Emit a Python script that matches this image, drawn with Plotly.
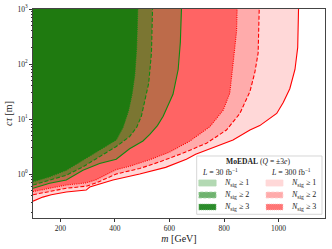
import plotly.graph_objects as go

# ---- data (mass in GeV, c*tau in m) ----
m_l300_n1 = [100, 136, 167, 222, 295, 308, 393, 491, 586, 662, 696, 772, 833, 895, 931, 993, 1017, 1041, 1060, 1070, 1073]
ct_l300_n1 = [0.32, 0.38, 0.42, 0.47, 0.51, 0.58, 0.78, 1.0, 1.32, 1.86, 2.29, 3.16, 4.17, 6.31, 7.59, 12.6, 20, 35.5, 79.4, 200, 1000]

m_l300_n2 = [100, 161, 222, 295, 332, 405, 491, 564, 650, 736, 809, 858, 895, 913, 925, 929]
ct_l300_n2 = [0.42, 0.48, 0.55, 0.60, 0.69, 1.0, 1.26, 1.66, 2.40, 3.63, 6.31, 12.6, 31.6, 70.8, 158, 1000]

m_l300_n3 = [100, 161, 222, 295, 332, 405, 454, 528, 601, 675, 748, 797, 821, 833, 846, 848]
ct_l300_n3 = [0.48, 0.55, 0.63, 0.69, 0.79, 1.20, 1.38, 1.82, 2.51, 3.98, 7.24, 14.5, 29.5, 100, 398, 1000]

m_l30_n1 = [100, 161, 222, 283, 344, 405, 454, 503, 528, 556, 577, 601, 613, 632, 640, 644]
ct_l30_n1 = [0.55, 0.68, 0.78, 1.17, 1.55, 1.86, 2.88, 3.98, 5.25, 7.59, 11.2, 20, 28.2, 79.4, 251, 1000]

m_l30_n2 = [100, 161, 222, 283, 344, 405, 454, 480, 497, 510, 524, 534, 538]
ct_l30_n2 = [0.63, 0.78, 0.95, 1.35, 2.04, 3.16, 4.79, 7.08, 11.2, 22.4, 44.7, 158, 1000]

m_l30_n3 = [100, 161, 222, 283, 344, 405, 430, 450, 463, 473, 480, 484]
ct_l30_n3 = [0.72, 0.89, 1.17, 1.78, 2.75, 4.17, 7.08, 14.1, 28.2, 63.1, 200, 1000]

x_ticks = [200, 400, 600, 800, 1000]
y_ticks = [1, 10, 100, 1000]
y_ticktext = ["10<sup>0</sup>", "10<sup>1</sup>", "10<sup>2</sup>", "10<sup>3</sup>"]

curves = [
    # (masses, ctau, fill colour, line colour, dash)
    (m_l300_n1, ct_l300_n1, "#ffd8d8", "#ff0000", "solid"),
    (m_l300_n2, ct_l300_n2, "#ffabab", "#ff0000", "4px,2px"),
    (m_l300_n3, ct_l300_n3, "#ff6464", "#ff0000", "1px,1.2px"),
    (m_l30_n1, ct_l30_n1, "#bd6b4a", "#118811", "solid"),
    (m_l30_n2, ct_l30_n2, "#7b7632", "#118811", "4px,2px"),
    (m_l30_n3, ct_l30_n3, "#1f7a10", "#118811", "1px,1.2px"),
]

fig = go.Figure()

# filled regions (to the upper-left of each curve)
for ms, cts, fc, lc, dash in curves:
    xs = list(ms) + [ms[0]]
    ys = list(cts) + [cts[-1]]
    fig.add_trace(go.Scatter(x=xs, y=ys, mode="lines", fill="toself",
                             fillcolor=fc, line=dict(width=0), hoverinfo="skip"))

# boundary lines
for ms, cts, fc, lc, dash in curves:
    fig.add_trace(go.Scatter(x=ms, y=cts, mode="lines",
                             line=dict(color=lc, width=1.1, dash=dash), hoverinfo="skip"))

minor_vals = []
for dec in [0.1, 1, 10, 100]:
    for k in range(2, 10):
        minor_vals.append(k * dec)

font_family = "Liberation Serif"

fig.update_layout(
    width=332, height=249,
    margin=dict(l=33, r=7, t=9, b=31),
    plot_bgcolor="white", paper_bgcolor="white",
    showlegend=False,
    font=dict(family=font_family, size=7.5, color="#222"),
    xaxis=dict(range=[100, 1170], tickvals=x_ticks, ticks="outside", ticklen=3,
               tickwidth=0.7, tickcolor="#333", linecolor="#444", linewidth=0.8,
               mirror=True, showgrid=False, zeroline=False, automargin=False,
               tickfont=dict(size=7.5),
               title=dict(text="<i>m</i> [GeV]", font=dict(size=10), standoff=3)),
    yaxis=dict(type="log", range=[-0.8, 3], tickvals=y_ticks, ticktext=y_ticktext,
               ticks="outside", ticklen=3, tickwidth=0.7, tickcolor="#333",
               linecolor="#444", linewidth=0.8, mirror=True, showgrid=False,
               zeroline=False, automargin=False, tickfont=dict(size=7.5),
               minor=dict(tickvals=minor_vals, ticks="outside", ticklen=1.5,
                          tickwidth=0.5, tickcolor="#333", showgrid=False),
               title=dict(text="<i>cτ</i> [m]", font=dict(size=10), standoff=2)),
)

# ---- manual legend ----
shapes = [dict(type="rect", xref="paper", yref="paper", x0=0.5606, x1=0.9897,
               y0=0.0177, y1=0.2967, fillcolor="rgba(255,255,255,0.85)",
               line=dict(color="#cccccc", width=0.8), layer="above")]
annotations = [
    dict(text="<b>MoEDAL</b> (<i>Q</i> = ±3<i>e</i>)", x=0.771, y=0.272, size=7.6),
    dict(text="<i>L</i> = 30 fb<sup>−1</sup>", x=0.640, y=0.221, size=7.8),
    dict(text="<i>L</i> = 300 fb<sup>−1</sup>", x=0.884, y=0.221, size=7.8),
]
leg_fill_30 = ["#b3d9b3", "#6fb36f", "#2b8c2b"]
leg_edge_30 = ["#b3d9b3", "#a8d4a8", "#8fc48f"]
leg_fill_300 = ["#ffd8d8", "#ffabab", "#ff7575"]
leg_edge_300 = ["#ffd8d8", "#ffd0d0", "#ffc0c0"]
leg_dash = ["solid", "3px,1.5px", "1px,1px"]
row_y = [0.1675, 0.110, 0.0526]
for i, ry in enumerate(row_y):
    for (x0, x1, fcol, ecol, tx) in [(0.568, 0.627, leg_fill_30[i], leg_edge_30[i], 0.647),
                                     (0.798, 0.856, leg_fill_300[i], leg_edge_300[i], 0.878)]:
        shapes.append(dict(type="rect", xref="paper", yref="paper", x0=x0, x1=x1,
                           y0=ry - 0.0144, y1=ry + 0.0144, fillcolor=fcol,
                           line=dict(color=ecol, width=0.8, dash=leg_dash[i]), layer="above"))
        annotations.append(dict(text="<i>N</i><sub>sig</sub> ≥ %d" % (i + 1), x=tx, y=ry,
                                xanchor="left", size=8))

for a in annotations:
    sz = a.pop("size")
    a.update(xref="paper", yref="paper", showarrow=False,
             font=dict(size=sz, family=font_family, color="#222"))
    a.setdefault("xanchor", "center")
    a["yanchor"] = "middle"

fig.update_layout(shapes=shapes, annotations=annotations)

fig.write_html("out.html", config={"displayModeBar": False},
               post_script="document.body.style.margin='0';")
